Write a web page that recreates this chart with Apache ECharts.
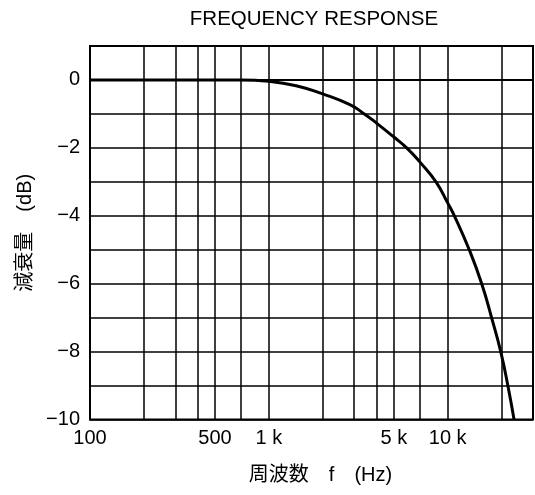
<!DOCTYPE html>
<html>
<head>
<meta charset="utf-8">
<script src="https://cdn.jsdelivr.net/npm/echarts@6/dist/echarts.min.js"></script>
<style>html,body{margin:0;padding:0;background:#fff}#c{width:535px;height:495px}</style>
</head>
<body>
<div id="c"></div>
<script>
// Frequency (Hz) and attenuation (dB)
var freqHz = [100, 500, 700, 1000, 1420, 2000, 2820, 3420, 4000, 5000, 5900, 7000, 8600, 10000, 10900, 13200, 15500, 17600, 19800, 21700, 23500];
var attenuationDb = [0, 0, 0, -0.04, -0.17, -0.41, -0.72, -1, -1.27, -1.68, -2, -2.42, -3, -3.62, -4, -5, -6, -7, -8, -9, -10];
// Vertical grid lines of the log scale
var xGridFreqs = [200, 300, 400, 500, 700, 1000, 2000, 3000, 4000, 5000, 7000, 10000, 20000];
// X tick labels
var xTickValues = [100, 500, 1000, 5000, 10000];
var xTickTexts = ['100', '500', '1 k', '5 k', '10 k'];
// Y tick labels
var yTickValues = [0, -2, -4, -6, -8, -10];
var yTickTexts = ['0', '\u22122', '\u22124', '\u22126', '\u22128', '\u221210'];

var FONT = '"Liberation Sans", Arial, "Noto Sans CJK JP", sans-serif';
var chart = echarts.init(document.getElementById('c'), null, {renderer: 'canvas'});

var lineData = freqHz.map(function (f, i) { return [f, attenuationDb[i]]; });

var allV = xGridFreqs.slice();
xTickValues.forEach(function (v) { if (allV.indexOf(v) < 0) allV.push(v); });
var markData = allV.map(function (f) {
  var idx = xTickValues.indexOf(f);
  var d = {xAxis: f, lineStyle: {color: '#000', width: 1.5, type: 'solid'}};
  if (xGridFreqs.indexOf(f) < 0) d.lineStyle = {color: 'rgba(0,0,0,0)', width: 1};
  if (idx >= 0) {
    d.label = {show: true, position: 'start', formatter: xTickTexts[idx], color: '#000',
      fontSize: 20, fontFamily: FONT, distance: 9};
  } else {
    d.label = {show: false};
  }
  return d;
});

chart.setOption({
  animation: false,
  backgroundColor: '#fff',
  title: {
    text: 'FREQUENCY RESPONSE',
    left: 309, top: 4, textAlign: 'center',
    textStyle: {color: '#000', fontSize: 20.5, fontWeight: 'normal', fontFamily: FONT}
  },
  grid: {left: 90, right: 2, top: 46, bottom: 75.5, show: true, borderColor: '#000', borderWidth: 2},
  xAxis: {
    type: 'log', logBase: 10, min: 100, max: 30000,
    axisLine: {show: true, lineStyle: {color: '#000', width: 2}},
    axisTick: {show: false},
    axisLabel: {show: false},
    splitLine: {show: false},
    minorSplitLine: {show: false},
    name: '\u5468\u6CE2\u6570\u3000f\u3000(Hz)',
    nameLocation: 'middle',
    nameGap: 46,
    nameTextStyle: {color: '#000', fontSize: 20, fontFamily: FONT, padding: [0, 0, 0, 18]}
  },
  yAxis: {
    type: 'value', min: -10, max: 1, interval: 1,
    axisLine: {show: true, lineStyle: {color: '#000', width: 2}},
    axisTick: {show: false},
    axisLabel: {
      color: '#000', fontSize: 20, fontFamily: FONT, margin: 10,
      formatter: function (v) {
        var i = yTickValues.indexOf(Math.round(v));
        return i >= 0 && Math.abs(v - Math.round(v)) < 1e-6 ? yTickTexts[i] : '';
      }
    },
    splitLine: {show: true, lineStyle: {color: '#000', width: 1.5}},
    name: '\u6E1B\u8870\u91CF\u3000(dB)',
    nameLocation: 'middle',
    nameRotate: 90,
    nameGap: 53,
    nameTextStyle: {color: '#000', fontSize: 20, fontFamily: FONT}
  },
  series: [
    {
      type: 'line',
      data: [],
      silent: true,
      markLine: {silent: true, symbol: ['none', 'none'], animation: false, data: markData}
    },
    {
      type: 'line',
      data: lineData,
      smooth: 0.5,
      showSymbol: false,
      symbol: 'none',
      lineStyle: {color: '#000', width: 3},
      silent: true,
      z: 5
    }
  ]
});
</script>
</body>
</html>
